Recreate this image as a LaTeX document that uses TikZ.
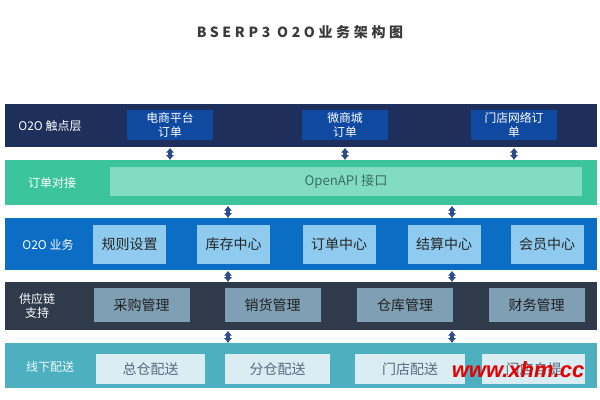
\documentclass[tikz,border=0pt]{standalone}
\usepackage{fontspec}
\setmainfont{Noto Sans CJK SC}
\newfontfamily\titlefont[LetterSpace=26]{Noto Sans CJK SC}
\newfontfamily\wmfont{Liberation Sans}
\usetikzlibrary{arrows.meta}
\definecolor{lay1}{HTML}{1E2F5C}
\definecolor{box1}{HTML}{0F4AA0}
\definecolor{lay2}{HTML}{3CC49C}
\definecolor{box2}{HTML}{82DCC2}
\definecolor{txt2}{HTML}{3C6E66}
\definecolor{lay3}{HTML}{0B6DC3}
\definecolor{box3}{HTML}{8ECBEE}
\definecolor{lay4}{HTML}{2F3A4B}
\definecolor{box4}{HTML}{7F9FB5}
\definecolor{lay5}{HTML}{4DB0C1}
\definecolor{box5}{HTML}{D9EDF3}
\definecolor{txt5}{HTML}{5A6A82}
\definecolor{arr}{HTML}{2C4C8C}
\definecolor{ttl}{HTML}{3A3A3A}
\tikzset{
  layer/.style={fill=#1, draw=none, anchor=north west, inner sep=0pt},
  laylabel/.style={text=white, font=\fontsize{6}{7}\selectfont, align=center},
  cell/.style={fill=#1, draw=none, inner sep=0pt, align=center},
  link/.style={arr, line width=1.7pt, {Latex[length=2.4pt,width=4.2pt]}-{Latex[length=2.4pt,width=4.2pt]}},
}
\begin{document}
\begin{tikzpicture}[x=0.5pt,y=-0.5pt]
\useasboundingbox (0,0) rectangle (600,400);
\fill[white] (0,0) rectangle (600,400);
% title
\node[text=ttl, font=\titlefont\bfseries\fontsize{7}{8}\selectfont] (title) at (300,32) {BSERP3 O2O业务架构图};
% layers
\node[layer=lay1, minimum width=296pt, minimum height=21.5pt] (L1) at (5,104) {};
\node[layer=lay2, minimum width=296pt, minimum height=22.5pt] (L2) at (5,160) {};
\node[layer=lay3, minimum width=296pt, minimum height=26pt] (L3) at (5,218) {};
\node[layer=lay4, minimum width=296pt, minimum height=24pt] (L4) at (5,282) {};
\node[layer=lay5, minimum width=296pt, minimum height=22.5pt] (L5) at (5,343) {};
% labels
\node[laylabel] (t1) at (50,126) {O2O 触点层};
\node[laylabel] (t2) at (52,183) {订单对接};
\node[laylabel] (t3) at (48,245) {O2O 业务};
\node[laylabel, font=\fontsize{6}{7}\selectfont] (t4) at (37,306) {供应链\\支持};
\node[laylabel, text=white!92!lay5] (t5) at (50,367) {线下配送};
% layer 1 boxes
\begin{scope}[every node/.style={cell=box1, text=white, minimum width=43pt, minimum height=15pt, font=\fontsize{5.9}{6.6}\selectfont}]
\node (a1) at (170,125) {电商平台\\订单};
\node (a2) at (345,125) {微商城\\订单};
\node (a3) at (514,125) {门店网络订\\单};
\end{scope}
% layer 2 box
\node[cell=box2, text=txt2, minimum width=236pt, minimum height=14.5pt, font=\fontsize{6.6}{7}\selectfont] (api) at (346,181.5) {OpenAPI 接口};
% layer 3 boxes
\begin{scope}[every node/.style={cell=box3, text=black!85, minimum width=36.5pt, minimum height=19.5pt, font=\fontsize{7}{8}\selectfont}]
\node (c1) at (129.5,244.5) {规则设置};
\node (c2) at (233.5,244.5) {库存中心};
\node (c3) at (339,244.5) {订单中心};
\node (c4) at (444,244.5) {结算中心};
\node (c5) at (547,244.5) {会员中心};
\end{scope}
% layer 4 boxes
\begin{scope}[every node/.style={cell=box4, text=black!88, minimum width=48pt, minimum height=17pt, font=\fontsize{7}{8}\selectfont}]
\node (d1) at (141.5,305) {采购管理};
\node (d2) at (272.5,305) {销货管理};
\node (d3) at (405,305) {仓库管理};
\node (d4) at (536.5,305) {财务管理};
\end{scope}
% layer 5 boxes
\begin{scope}[every node/.style={cell=box5, text=txt5, minimum height=15pt, font=\fontsize{7}{8}\selectfont}]
\node[minimum width=54.5pt] (e1) at (150.5,369) {总仓配送};
\node[minimum width=52.5pt] (e2) at (277.5,369) {分仓配送};
\node[minimum width=55pt] (e3) at (410,369) {门店配送};
\node[minimum width=51.5pt] (e4) at (533.5,369) {门店自提};
\end{scope}
% connectors
\coordinate (x1) at (228,0);
\coordinate (x2) at (452,0);
\draw[link] (L1.south -| a1) -- (L2.north -| a1);
\draw[link] (L1.south -| a2) -- (L2.north -| a2);
\draw[link] (L1.south -| a3) -- (L2.north -| a3);
\draw[link] (L2.south -| x1) -- (L3.north -| x1);
\draw[link] (L2.south -| x2) -- (L3.north -| x2);
\draw[link] (L3.south -| x1) -- (L4.north -| x1);
\draw[link] (L3.south -| x2) -- (L4.north -| x2);
\draw[link] (L4.south -| x1) -- (L5.north -| x1);
\draw[link] (L4.south -| x2) -- (L5.north -| x2);
% watermark
\node[text=red!90!black, font=\wmfont\bfseries\itshape\fontsize{11}{12}\selectfont] (wm) at (518,370) {www.xhm.cc};
\end{tikzpicture}
\end{document}
